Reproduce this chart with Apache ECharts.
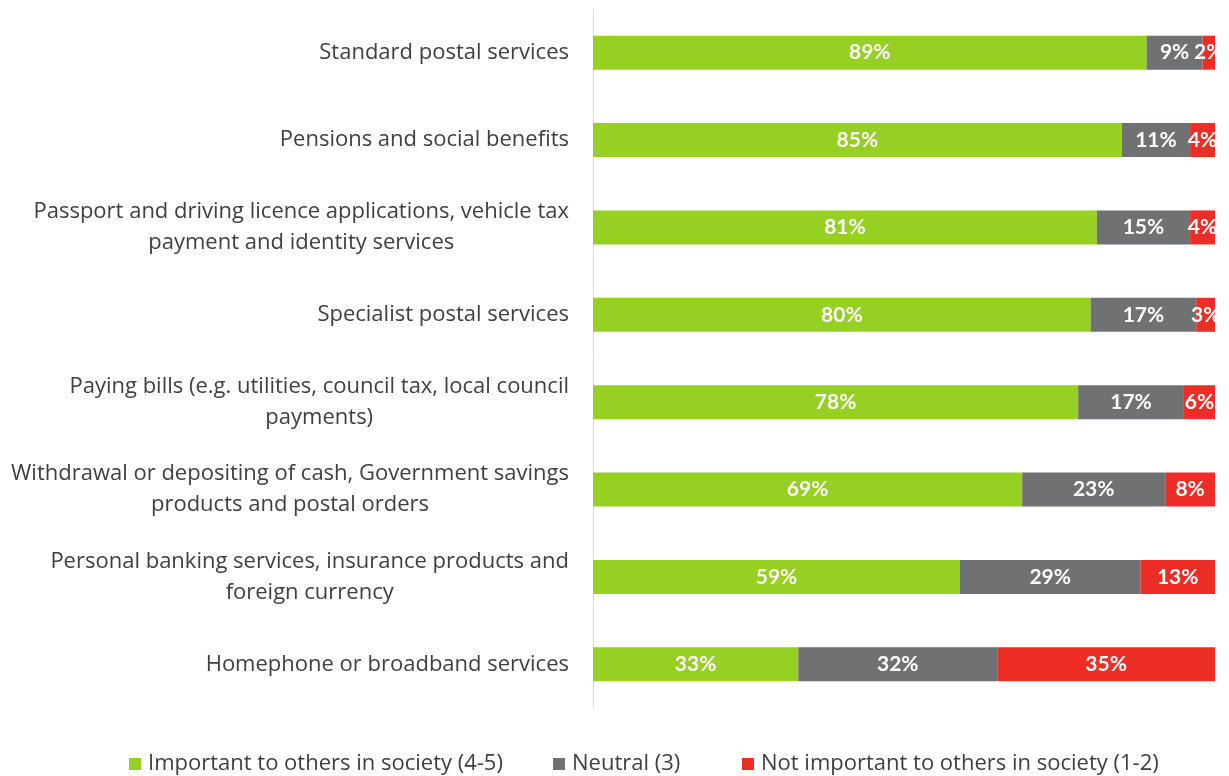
<!DOCTYPE html>
<html>
<head>
<meta charset="utf-8">
<script src="https://cdn.jsdelivr.net/npm/echarts@6/dist/echarts.min.js"></script>
<style>
  html, body { margin: 0; padding: 0; background: #ffffff; }
  #chart { width: 1229px; height: 776px; }
</style>
</head>
<body>
<div id="chart"></div>
<script>
// Service categories (top to bottom), with explicit line breaks
const categories = [
  'Standard postal services',
  'Pensions and social benefits',
  'Passport and driving licence applications, vehicle tax\npayment and identity services',
  'Specialist postal services',
  'Paying bills (e.g. utilities, council tax, local council\npayments)',
  'Withdrawal or depositing of cash, Government savings\nproducts and postal orders',
  'Personal banking services, insurance products and\nforeign currency',
  'Homephone or broadband services'
];

const seriesNames = [
  'Important to others in society (4-5)',
  'Neutral (3)',
  'Not important to others in society (1-2)'
];

// Percentages per category, same order as categories
const important    = [89, 85, 81, 80, 78, 69, 59, 33];
const neutral      = [9, 11, 15, 17, 17, 23, 29, 32];
const notImportant = [2, 4, 4, 3, 6, 8, 13, 35];

const colors = ['#95d022', '#707173', '#ee2d27'];
const TEXT_FONT = '"Open Sans", Lato, sans-serif';
const LABEL_FONT = 'Lato, "Open Sans", sans-serif';

// Left edge of each legend entry along the bottom row
const legendLefts = [129, 553, 742];

const chart = echarts.init(document.getElementById('chart'));

function barSeries(name, data, color) {
  return {
    name: name,
    type: 'bar',
    stack: 'total',
    barWidth: 34,
    clip: true,
    itemStyle: { color: color },
    label: {
      show: true,
      position: 'inside',
      color: '#ffffff',
      fontFamily: LABEL_FONT,
      fontWeight: 'bold',
      fontSize: 21,
      formatter: p => p.value + '%'
    },
    emphasis: { disabled: true },
    data: data
  };
}

function legendEntry(name, left) {
  return {
    top: 753,
    left: left,
    padding: 0,
    itemWidth: 12,
    itemHeight: 12,
    icon: 'rect',
    selectedMode: false,
    textStyle: { fontFamily: TEXT_FONT, fontSize: 22, color: '#404040', padding: [0, 0, 0, 2] },
    data: [name]
  };
}

chart.setOption({
  animation: false,
  backgroundColor: '#ffffff',
  grid: { left: 593, right: 14, top: 9, bottom: 68, containLabel: false },
  legend: seriesNames.map((n, i) => legendEntry(n, legendLefts[i])),
  xAxis: {
    type: 'value',
    min: 0,
    max: 100,
    show: false
  },
  yAxis: {
    type: 'category',
    inverse: true,
    data: categories,
    axisLine: { show: true, lineStyle: { color: '#d9d9d9', width: 1 } },
    axisTick: { show: false },
    axisLabel: {
      margin: 24,
      align: 'right',
      color: '#404040',
      fontFamily: TEXT_FONT,
      fontSize: 22,
      lineHeight: 31,
      formatter: v => v.split('\n').map(s => '{c|' + s + '}').join('\n'),
      rich: {
        c: { align: 'center', fontFamily: TEXT_FONT, fontSize: 22, lineHeight: 31, color: '#404040' }
      }
    }
  },
  series: [
    barSeries(seriesNames[0], important, colors[0]),
    barSeries(seriesNames[1], neutral, colors[1]),
    barSeries(seriesNames[2], notImportant, colors[2])
  ]
});
</script>
</body>
</html>
